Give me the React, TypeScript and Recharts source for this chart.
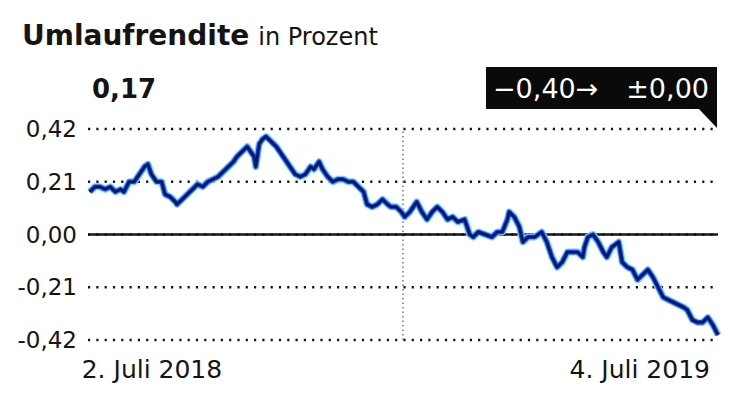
import { LineChart, Line, XAxis, YAxis, CartesianGrid, ReferenceLine } from 'recharts';

// days since 2. Juli 2018
const days = [
  0, 3, 6, 9, 12, 15, 18, 20, 23, 26, 29, 32, 34, 36, 39, 42, 44, 47, 50, 51,
  54, 57, 60, 63, 66, 69, 72, 75, 78, 81, 84, 86, 89, 92, 94, 96, 97, 99, 101, 103,
  106, 109, 112, 115, 117, 120, 123, 126, 129, 131, 134, 136, 139, 142, 145, 148, 151, 154, 157, 160,
  162, 165, 168, 171, 174, 176, 179, 182, 184, 187, 191, 194, 197, 200, 203, 206, 209, 212, 215, 219,
  222, 224, 227, 231, 235, 238, 241, 244, 245, 248, 251, 253, 256, 260, 264, 267, 270, 273, 276, 279,
  281, 285, 288, 289, 291, 294, 297, 300, 302, 305, 309, 311, 314, 317, 320, 323, 326, 329, 332, 335,
  338, 341, 344, 347, 349, 352, 355, 358, 361, 364, 367,
];

// Umlaufrendite in Prozent
const yields = [
  0.17, 0.19, 0.19, 0.18, 0.19, 0.17, 0.18, 0.17, 0.21, 0.21, 0.24, 0.27, 0.28, 0.24, 0.21, 0.21, 0.16, 0.15, 0.13, 0.12,
  0.14, 0.16, 0.18, 0.2, 0.19, 0.21, 0.22, 0.23, 0.25, 0.27, 0.29, 0.31, 0.33, 0.35, 0.33, 0.31, 0.27, 0.36, 0.38, 0.39,
  0.37, 0.35, 0.32, 0.29, 0.27, 0.24, 0.23, 0.24, 0.27, 0.26, 0.29, 0.26, 0.23, 0.21, 0.22, 0.22, 0.21, 0.21, 0.19, 0.17,
  0.12, 0.11, 0.12, 0.14, 0.12, 0.11, 0.11, 0.09, 0.07, 0.09, 0.13, 0.09, 0.06, 0.09, 0.11, 0.09, 0.06, 0.07, 0.05, 0.06,
  0.0, -0.01, 0.01, 0.0, -0.01, 0.01, 0.01, 0.06, 0.09, 0.07, 0.03, -0.03, -0.01, -0.01, 0.01, -0.03, -0.09, -0.13, -0.11, -0.07,
  -0.07, -0.07, -0.09, -0.05, -0.01, 0.0, -0.03, -0.07, -0.09, -0.05, -0.03, -0.11, -0.13, -0.14, -0.18, -0.16, -0.14, -0.17, -0.21, -0.25,
  -0.26, -0.27, -0.28, -0.29, -0.3, -0.34, -0.35, -0.35, -0.33, -0.36, -0.4,
];

const yTicks = [-0.42, -0.21, 0, 0.21, 0.42];
const xTicks = [0, 367];
const xLabels = ['2. Juli 2018', '4. Juli 2019'];
const yearBreak = 183;

const data = days.map((d, i) => ({ day: d, value: yields[i] }));

const FONT = '"DejaVu Sans", sans-serif';
const INK = '#141414';

const fmt = (v: number) => (v < 0 ? '-' : '') + Math.abs(v).toFixed(2).replace('.', ',');

function YTick(props: any) {
  const { x, y, payload } = props;
  return (
    <text x={x - 11} y={y + 8} textAnchor="end" fontFamily={FONT} fontSize={23} fill={INK}>
      {fmt(payload.value)}
    </text>
  );
}

function XTick(props: any) {
  const { x, y, index } = props;
  const first = index === 0;
  return (
    <text
      x={x - 8}
      y={y + 38}
      textAnchor={first ? 'start' : 'end'}
      fontFamily={FONT}
      fontSize={25}
      fill={INK}
    >
      {xLabels[first ? 0 : 1]}
    </text>
  );
}

export default function App() {
  return (
    <div style={{ position: 'absolute', left: 0, top: 0, width: 743, height: 397, background: '#fff' }}>
      <LineChart width={743} height={397} data={data} margin={{ top: 129, right: 25, bottom: 0, left: 0 }}>
        <CartesianGrid
          horizontal
          vertical={false}
          stroke={INK}
          strokeWidth={2.6}
          strokeDasharray="2.2 6.1"
        />
        <XAxis
          dataKey="day"
          type="number"
          domain={[-1, 367]}
          ticks={xTicks}
          height={57}
          axisLine={false}
          tickLine={false}
          tickSize={0}
          tickMargin={0}
          tick={<XTick />}
          interval={0}
        />
        <YAxis
          type="number"
          domain={[-0.42, 0.42]}
          ticks={yTicks}
          width={88}
          axisLine={false}
          tickLine={false}
          tickSize={0}
          tickMargin={0}
          tick={<YTick />}
          interval={0}
        />
        <ReferenceLine x={yearBreak} stroke="#777" strokeWidth={1.5} strokeDasharray="1.5 3" />
        <ReferenceLine y={0} stroke={INK} strokeWidth={2.6} />
        <Line dataKey="value" stroke="#6fd0ff" strokeWidth={7} dot={false} isAnimationActive={false} strokeLinejoin="round" />
        <Line dataKey="value" stroke="#1c3fe0" strokeWidth={4.6} dot={false} isAnimationActive={false} strokeLinejoin="round" />
        <Line dataKey="value" stroke="#0b1658" strokeWidth={2.4} dot={false} isAnimationActive={false} strokeLinejoin="round" />
      </LineChart>
      <svg width={743} height={397} style={{ position: 'absolute', left: 0, top: 0, pointerEvents: 'none' }}>
        <text x={22} y={45} fontFamily={FONT} fill={INK}>
          <tspan fontSize={28} fontWeight="bold">Umlaufrendite</tspan>
          <tspan fontSize={24} dx={9}>in Prozent</tspan>
        </text>
        <text x={92} y={98} fontFamily={FONT} fontSize={26} fontWeight="bold" fill={INK}>
          0,17
        </text>
        <rect x={486} y={67} width={231} height={42} fill="#0a0a0a" />
        <polygon points="698,108 717,108 717,128" fill="#0a0a0a" />
        <text x={493} y={98} fontFamily={FONT} fontSize={27} fill="#fff">
          −0,40→
        </text>
        <text x={709} y={98} textAnchor="end" fontFamily={FONT} fontSize={27} fill="#fff">
          ±0,00
        </text>
      </svg>
    </div>
  );
}
